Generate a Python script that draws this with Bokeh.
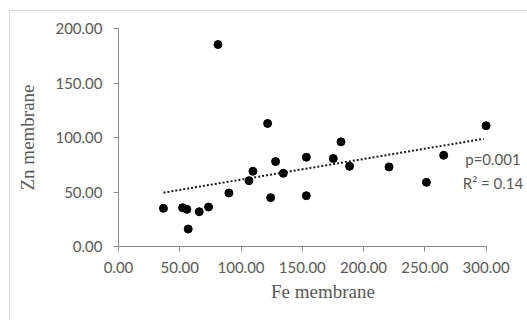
from bokeh.plotting import figure
from bokeh.layouts import column
from bokeh.models import Range1d, FixedTicker, Label, ColumnDataSource
from bokeh.embed import file_html
from bokeh.resources import INLINE

# Data
fe = [36.7, 52.3, 55.8, 56.9, 65.9, 73.5, 81.2, 90.1, 106.5, 109.7, 121.7, 124.2,
      128.2, 134.5, 153.3, 153.3, 175.3, 181.6, 188.6, 220.8, 251.3, 265.4, 300.0]
zn = [35.0, 35.6, 34.1, 16.0, 31.9, 36.2, 185.3, 49.1, 60.4, 69.0, 112.9, 44.8,
      77.9, 67.2, 81.9, 46.6, 80.7, 96.0, 73.6, 73.0, 58.9, 83.7, 110.8]
trend_x = [36.7, 298.0]
trend_y = [49.4, 98.8]
x_ticks = [0, 50, 100, 150, 200, 250, 300]
y_ticks = [0, 50, 100, 150, 200]
p_text = "p=0.001"
r2_text = "R² = 0.14"

TXT = "#595959"
AX = "#8c8c8c"

p = figure(width=517, height=309, output_backend="svg", toolbar_location=None,
           x_range=Range1d(0, 333.8), y_range=Range1d(0, 200),
           min_border_left=108, min_border_right=0, min_border_top=17, min_border_bottom=74)
p.grid.visible = False
p.outline_line_color = None
p.background_fill_color = "white"
p.border_fill_color = "white"

src = ColumnDataSource(dict(x=fe, y=zn))
p.line(trend_x, trend_y, line_color="#1a1a1a", line_width=2, line_dash="2 2")
p.scatter("x", "y", source=src, size=8, color="black")

for ax in (p.xaxis[0], p.yaxis[0]):
    ax.axis_line_color = AX
    ax.major_tick_line_color = AX
    ax.minor_tick_line_color = None
    ax.major_tick_in = 0
    ax.major_tick_out = 5
    ax.major_label_text_font = "Lato"
    ax.major_label_text_font_size = "15px"
    ax.major_label_text_color = TXT
    ax.axis_label_text_font = "Liberation Serif"
    ax.axis_label_text_font_size = "19px"
    ax.axis_label_text_font_style = "normal"
    ax.axis_label_text_color = TXT

p.xaxis.bounds = (x_ticks[0], x_ticks[-1])
p.xaxis.ticker = FixedTicker(ticks=x_ticks)
p.yaxis.ticker = FixedTicker(ticks=y_ticks)
p.xaxis.major_label_overrides = {t: f"{t:.2f}" for t in x_ticks}
p.yaxis.major_label_overrides = {t: f"{t:.2f}" for t in y_ticks}
p.xaxis.axis_label = "Fe membrane"
p.yaxis.axis_label = "Zn membrane"
p.xaxis.major_label_standoff = 10
p.yaxis.major_label_standoff = 11
p.xaxis.axis_label_standoff = 5
p.yaxis.axis_label_standoff = 14

for txt, yy in ((p_text, 80.7), (r2_text, 58.6)):
    p.add_layout(Label(x=305.6, y=yy, text=txt,
                       text_font="Lato", text_font_size="15px", text_color=TXT,
                       text_align="center", text_baseline="middle"))

layout = column(p, styles={"margin-left": "9px", "margin-top": "10px",
                           "border-left": "1px solid #dcdcdc",
                           "border-top": "1px solid #dcdcdc"})

open("out.html", "w").write(file_html(layout, INLINE))
